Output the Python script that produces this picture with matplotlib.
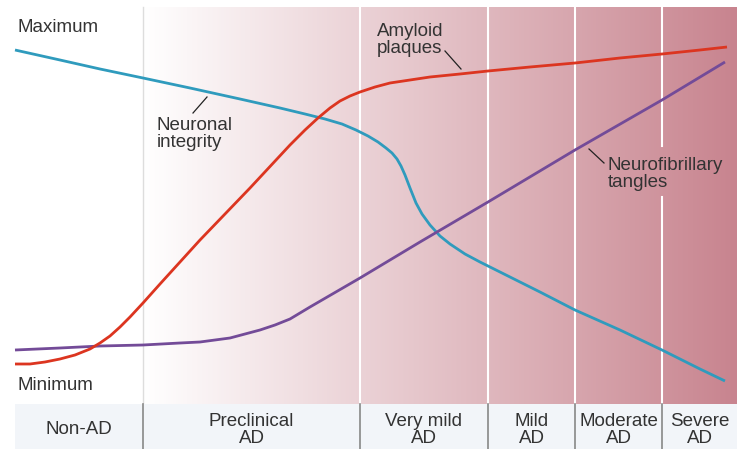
import numpy as np
import matplotlib.pyplot as plt
from matplotlib.colors import LinearSegmentedColormap

plt.rcParams['font.family'] = ['Liberation Sans', 'DejaVu Sans']

# Disease progression (x) and level (y, drawn top = maximum)
neuronal_x = [15, 60, 100, 143, 190, 240, 280, 305, 325, 342, 356, 368, 378, 386, 392, 397, 401,
              405, 410, 416, 422, 430, 440, 450, 465, 480, 500, 540, 575, 620, 662, 700, 725]
neuronal_y = [50, 60, 69, 78, 88, 99, 108, 114, 119, 124, 130, 136, 142, 148, 153, 159, 166,
              175, 188, 203, 214, 225, 236, 244, 254, 262, 272, 292, 310, 330, 350, 369, 381]

amyloid_x = [15, 30, 45, 60, 75, 90, 100, 110, 120, 130, 143, 160, 200, 250, 290, 305, 318, 330,
             340, 350, 360, 375, 390, 410, 430, 460, 488, 530, 575, 620, 662, 700, 727]
amyloid_y = [364, 364, 362, 359, 355, 349, 343, 336, 327, 317, 303, 284, 240, 188, 145, 130, 118, 108,
             101, 96, 92, 87, 83, 80, 77, 74, 71, 67, 63, 58, 54, 50, 47]

tangles_x = [15, 60, 100, 143, 180, 200, 215, 230, 245, 260, 275, 290, 310, 360, 420, 488, 575, 662, 725]
tangles_y = [350, 348, 346, 345, 343, 342, 340, 338, 334, 330, 325, 319, 307, 278, 242, 202, 150, 100, 62]

stage_edges = [15, 143, 360, 488, 575, 662, 737]
stage_labels = ['Non-AD', 'Preclinical\nAD', 'Very mild\nAD', 'Mild\nAD', 'Moderate\nAD', 'Severe\nAD']

fig = plt.figure(figsize=(7.37, 4.49), dpi=100)
ax = fig.add_axes([0, 0, 1, 1])
ax.set_xlim(0, 737)
ax.set_ylim(449, 0)
ax.axis('off')

plot_top, plot_bottom = 7, 404

# pink gradient behind the disease stages
cmap = LinearSegmentedColormap.from_list('pink', ['#ffffff', '#c8848f'])
grad = np.linspace(0, 1, 256).reshape(1, -1)
ax.imshow(grad, cmap=cmap, aspect='auto', extent=(stage_edges[1], stage_edges[-1], plot_bottom, plot_top),
          zorder=0)

# stage dividers in the plot area
ax.plot([stage_edges[1]] * 2, [plot_top, plot_bottom], color='#dddddd', lw=1, zorder=1)
for xe in stage_edges[2:-1]:
    if xe == 662:
        ax.plot([xe, xe], [plot_top, 146], color='white', lw=1.5, zorder=1)
        ax.plot([xe, xe], [197, plot_bottom], color='white', lw=1.5, zorder=1)
    else:
        ax.plot([xe, xe], [plot_top, plot_bottom], color='white', lw=1.5, zorder=1)

# bottom stage band
ax.fill_between([stage_edges[0], stage_edges[-1]], plot_bottom, 449, color='#f2f5f9', zorder=1, lw=0)
for xe in stage_edges[1:-1]:
    ax.plot([xe, xe], [plot_bottom, 449], color='#888888', lw=1.2, zorder=2)
for i, lab in enumerate(stage_labels):
    cx = (stage_edges[i] + stage_edges[i + 1]) / 2
    ax.text(cx, 430, lab, ha='center', va='center', fontsize=13.5, color='#333333',
            linespacing=0.95)

# curves
ax.plot(neuronal_x, neuronal_y, color='#2f9bbd', lw=2.0, zorder=3, solid_capstyle='butt')
ax.plot(tangles_x, tangles_y, color='#734b98', lw=2.0, zorder=3, solid_capstyle='butt')
ax.plot(amyloid_x, amyloid_y, color='#dc3520', lw=2.0, zorder=4, solid_capstyle='butt')

# axis annotations
ax.text(18, 28, 'Maximum', ha='left', va='center', fontsize=13.5, color='#333333')
ax.text(18, 385, 'Minimum', ha='left', va='center', fontsize=13.5, color='#333333')

# curve labels with leader lines
ax.text(157, 134, 'Neuronal\nintegrity', ha='left', va='center', fontsize=13.5, color='#333333',
        linespacing=0.95)
ax.plot([193, 207], [113, 97], color='#222222', lw=0.9, zorder=5)

ax.text(377, 40, 'Amyloid\nplaques', ha='left', va='center', fontsize=13.5, color='#333333',
        linespacing=0.95)
ax.plot([445, 461], [51, 69], color='#222222', lw=0.9, zorder=5)

ax.text(608, 174, 'Neurofibrillary\ntangles', ha='left', va='center', fontsize=13.5, color='#333333',
        linespacing=0.95)
ax.plot([589, 604], [149, 163], color='#222222', lw=0.9, zorder=5)

fig.savefig('out.png', dpi=100)
